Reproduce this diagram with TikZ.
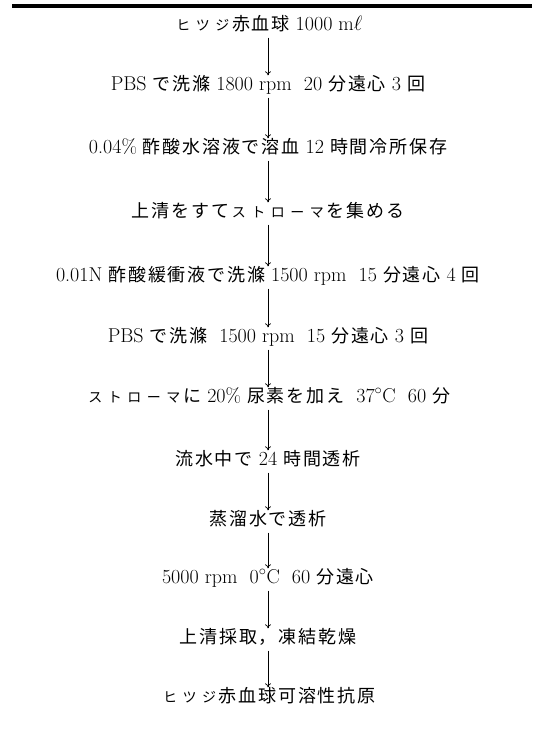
\documentclass[tikz,border=0pt]{standalone}
\usepackage{fontspec}
\newfontfamily\cjk[LetterSpace=10]{Noto Sans CJK JP}
\usetikzlibrary{arrows.meta}
\newcommand\J[1]{{\cjk\fontsize{18}{20}\selectfont #1}}
\newcommand\kk[1]{\makebox[19.5pt]{\cjk\fontsize{14}{16}\selectfont #1}}
\tikzset{
  stepnode/.style={inner sep=0pt, text height=14pt, text depth=3pt, font=\fontsize{20}{24}\selectfont},
  flow/.style={-{Computer Modern Rightarrow[length=4pt,width=6pt]}, line width=0.7pt, shorten <=4pt, shorten >=1pt},
  toprule/.style={line width=3.5pt}
}
\begin{document}
\begin{tikzpicture}[x=1pt,y=1pt]
\useasboundingbox (0,0) rectangle (532,-743);
\coordinate (ruleL) at (12,-6);
\coordinate (ruleR) at (532,-6);
\draw[toprule] (ruleL) -- (ruleR);
\node[stepnode] (n1) at (268,-25) {\kk{ヒ}\kk{ツ}\kk{ジ}\J{赤血球} 1000 m$\ell$};
\node[stepnode] (n2) at (268,-85) {PBS \J{で洗滌} 1800 rpm\ \ 20 \J{分遠心} 3 \J{回}};
\node[stepnode] (n3) at (268,-148) {0.04\% \J{酢酸水溶液で溶血} 12 \J{時間冷所保存}};
\node[stepnode] (n4) at (268,-212) {\J{上清をすて}\kk{ス}\kk{ト}\kk{ロ}\kk{ー}\kk{マ}\J{を集める}};
\node[stepnode] (n5) at (268,-276) {0.01N \J{酢酸緩衝液で洗滌} 1500 rpm\ \ 15 \J{分遠心} 4 \J{回}};
\node[stepnode] (n6) at (268,-337) {PBS \J{で洗滌}\ \ 1500 rpm\ \ 15 \J{分遠心} 3 \J{回}};
\node[stepnode] (n7) at (268,-397) {\kk{ス}\kk{ト}\kk{ロ}\kk{ー}\kk{マ}\J{に} 20\% \J{尿素を加え}\ \ 37$^\circ$C\ \ 60 \J{分}};
\node[stepnode] (n8) at (268,-460) {\J{流水中で} 24 \J{時間透析}};
\node[stepnode] (n9) at (268,-520) {\J{蒸溜水で透析}};
\node[stepnode] (n10) at (268,-578) {5000 rpm\ \ 0$^\circ$C\ \ 60 \J{分遠心}};
\node[stepnode] (n11) at (268,-638) {\J{上清採取，凍結乾燥}};
\node[stepnode] (n12) at (268,-697) {\kk{ヒ}\kk{ツ}\kk{ジ}\J{赤血球可溶性抗原}};
\foreach \a/\b in {n1/n2,n2/n3,n3/n4,n4/n5,n5/n6,n6/n7,n7/n8,n8/n9,n9/n10,n10/n11,n11/n12}
  \draw[flow] (\a) -- (\b);
\end{tikzpicture}
\end{document}
